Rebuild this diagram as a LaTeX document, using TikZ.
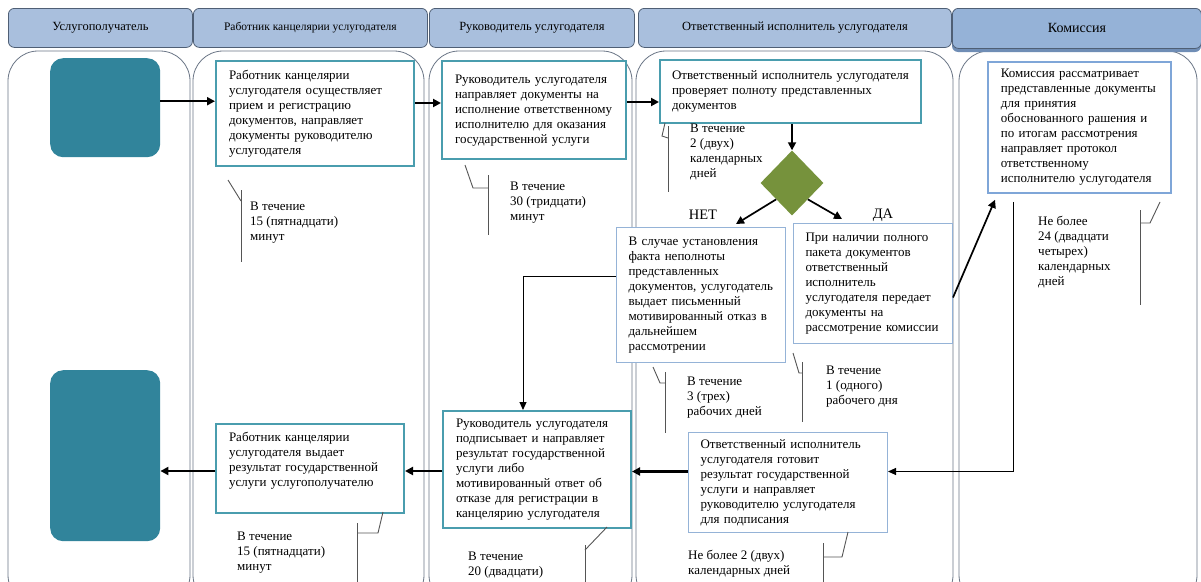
\documentclass[tikz,border=0pt]{standalone}
\usepackage{fontspec}
\setmainfont{Liberation Serif}
\usetikzlibrary{shapes.geometric,arrows.meta}
\definecolor{hdrfill}{HTML}{A9BFDD}
\definecolor{hdrfillb}{HTML}{95B2D7}
\definecolor{hdrshadow}{HTML}{6F8DB5}
\definecolor{hdrline}{HTML}{4F5F75}
\definecolor{laneline}{HTML}{6B7686}
\definecolor{tealfill}{HTML}{31849B}
\definecolor{tealline}{HTML}{4A9DAE}
\definecolor{blueline}{HTML}{7FA6D8}
\definecolor{lightline}{HTML}{95B3D7}
\definecolor{olivefill}{HTML}{76923C}
\definecolor{calloutcol}{HTML}{555555}
\newcommand{\mylines}[1]{\noindent\begin{tabular}{@{}l@{}}#1\end{tabular}}
\tikzset{
  hdr/.style={draw=hdrline, fill=hdrfill, rounded corners=6pt, line width=0.8pt,
    anchor=north west, inner sep=0pt, font=\fontsize{12.5}{14}\selectfont},
  lane/.style={draw=laneline, line width=0.8pt, rounded corners=30pt},
  term/.style={fill=tealfill, rounded corners=13pt, anchor=north west, inner sep=0pt},
  tbox/.style={draw=tealline, line width=2pt, fill=white, anchor=north west, inner xsep=13pt, inner ysep=0pt},
  bbox/.style={draw=blueline, line width=1.8pt, fill=white, anchor=north west, inner xsep=13pt, inner ysep=0pt},
  lbox/.style={draw=lightline, line width=1pt, fill=white, anchor=north west, inner xsep=12pt, inner ysep=0pt},
  note/.style={anchor=north west, inner sep=0pt},
  arr/.style={-{Triangle[length=8pt,width=8pt]}, line width=2.3pt},
  marr/.style={-{Triangle[length=8pt,width=8pt]}, line width=1.7pt},
  thinarr/.style={-{Triangle[length=8pt,width=7pt]}, line width=1pt},
  callout/.style={draw=calloutcol, line width=0.9pt},
}
\begin{document}
\begin{tikzpicture}[x=1pt,y=-1pt,font=\fontsize{13}{15}\selectfont]
\useasboundingbox (0,0) rectangle (1201,581);
\fill[white] (0,0) rectangle (1201,581);
\clip (0,0) rectangle (1201,581);

% lanes
\draw[lane] (8,51) rectangle (190,605);
\draw[lane] (193,51) rectangle (424,605);
\draw[lane] (429,51) rectangle (632,605);
\draw[lane] (636,51) rectangle (953,605);
\draw[lane] (959,51) rectangle (1197,605);

% headers
\node[hdr, minimum width=184pt, minimum height=39pt] (H1) at (8,8) {Услугополучатель};
\node[hdr, minimum width=234pt, minimum height=39pt, font=\fontsize{11.5}{13}\selectfont] (H2) at (193,8) {Работник канцелярии услугодателя};
\node[hdr, minimum width=205pt, minimum height=39pt] (H3) at (429,8) {Руководитель услугодателя};
\node[hdr, minimum width=313pt, minimum height=39pt] (H4) at (638,8) {Ответственный исполнитель услугодателя};
\fill[hdrshadow, rounded corners=6pt] (952,12) rectangle (1201,52);
\node[hdr, fill=hdrfillb, minimum width=249pt, minimum height=40pt, font=\fontsize{14}{16}\selectfont] (H5) at (952,8) {Комиссия};

% terminals
\node[term, minimum width=110pt, minimum height=99pt] (start) at (50,58) {};
\node[term, minimum width=110pt, minimum height=171pt] (end) at (50,370) {};

% boxes
\node[tbox, minimum width=198pt, minimum height=105pt, text width=172pt] (B1) at (215,60)
  {\mylines{Работник канцелярии\\ услугодателя осуществляет\\ прием и регистрацию\\ документов, направляет\\ документы руководителю\\ услугодателя}};
\node[tbox, minimum width=184pt, minimum height=98pt, text width=158pt] (B2) at (441,60)
  {\mylines{Руководитель услугодателя\\ направляет документы на\\ исполнение ответственному\\ исполнителю для оказания\\ государственной услуги}};
\node[tbox, minimum width=261pt, minimum height=63pt, text width=237pt, inner xsep=12pt] (B3) at (659,59)
  {\mylines{Ответственный исполнитель услугодателя\\ проверяет полноту представленных\\ документов}};
\node[diamond, fill=olivefill, minimum width=63pt, minimum height=65pt, inner sep=0pt] (D) at (792,183) {};
\node[lbox, minimum width=169pt, minimum height=135pt, text width=145pt] (B4) at (616,227)
  {\mylines{В случае установления\\ факта неполноты\\ представленных\\ документов, услугодатель\\ выдает письменный\\ мотивированный отказ в\\ дальнейшем\\ рассмотрении}};
\node[lbox, minimum width=159pt, minimum height=120pt, text width=135pt] (B5) at (793,223)
  {\mylines{При наличии полного\\ пакета документов\\ ответственный\\ исполнитель\\ услугодателя передает\\ документы на\\ рассмотрение комиссии}};
\node[bbox, minimum width=183pt, minimum height=131pt, text width=157pt] (B6) at (987,61)
  {\mylines{Комиссия рассматривает\\ представленные документы\\ для принятия\\ обоснованного рашения и\\ по итогам рассмотрения\\ направляет протокол\\ ответственному\\ исполнителю услугодателя}};
\node[lbox, minimum width=199pt, minimum height=100pt, text width=175pt] (B8) at (688,432)
  {\mylines{Ответственный исполнитель\\ услугодателя готовит\\ результат государственной\\ услуги и направляет\\ руководителю услугодателя\\ для подписания}};
\node[tbox, minimum width=188pt, minimum height=117pt, text width=162pt] (B7) at (442,410)
  {\mylines{Руководитель услугодателя\\ подписывает и направляет\\ результат государственной\\ услуги либо\\ мотивированный ответ об\\ отказе для регистрации в\\ канцелярию услугодателя}};
\node[tbox, minimum width=188pt, minimum height=89pt, text width=162pt] (B9) at (215,423)
  {\mylines{Работник канцелярии\\ услугодателя выдает\\ результат государственной\\ услуги услугополучателю\\ \mbox{}}};

% decision labels
\node[font=\fontsize{14.5}{16}\selectfont, inner sep=0pt] (net) at (703,215) {НЕТ};
\node[font=\fontsize{14.5}{16}\selectfont, inner sep=0pt] (da) at (883,215) {ДА};

% connectors
\draw[arr] ([yshift=6.5pt]start.east) coordinate (a1) -- (a1 -| B1.west);
\draw[arr] ([yshift=10.5pt]B1.east) coordinate (a2) -- (a2 -| B2.west);
\draw[arr] ([yshift=8pt]B2.east) coordinate (a3) -- (a3 -| B3.west);
\draw[marr] (D.north |- B3.south) -- (D.north);
\draw[marr] (D.south west) -- ([xshift=35pt,yshift=3pt]B4.north);
\draw[marr] (D.south east) -- ([xshift=-31pt,yshift=4pt]B5.north);
\draw[marr] ([yshift=-14pt]B5.east) -- ([xshift=8pt,yshift=-6pt]B6.south west);
\draw[thinarr] ([xshift=-65.5pt,yshift=-8pt]B6.south) |- ([yshift=11pt]B8.east);
\draw[arr] ([yshift=11pt]B8.west) coordinate (a5) -- (a5 -| B7.east);
\draw[thinarr] ([yshift=18.5pt]B4.west) -| ([xshift=-14pt]B7.north);
\draw[arr] ([yshift=-1.5pt]B7.west) coordinate (a6) -- (a6 -| B9.east);
\draw[arr] ([yshift=-2.5pt]B9.west) coordinate (a7) -- (a7 -| end.east);

% callouts
\draw[callout] (228,180) -- (241,201);
\draw[callout] (241,190) -- (241,262);
\draw[callout] (465,165) -- (473,188) -- (488,188);
\draw[callout] (488,175) -- (488,235);
\draw[callout] (665,123) -- (662,136) -- (668,138);
\draw[callout] (668,126) -- (668,192);
\draw[callout] (653,367) -- (660,383) -- (665,383);
\draw[callout] (665,372) -- (665,433);
\draw[callout] (793,353) -- (799,373) -- (802,373);
\draw[callout] (802,362) -- (802,422);
\draw[callout] (1160,202) -- (1150,223) -- (1140,223);
\draw[callout] (1140,210) -- (1140,305);
\draw[callout] (848,532) -- (842,557) -- (823,557);
\draw[callout] (823,543) -- (823,590);
\draw[callout] (383,512) -- (378,533) -- (357,533);
\draw[callout] (357,523) -- (357,590);
\draw[callout] (607,527) -- (585,550);
\draw[callout] (585,545) -- (585,590);

% timing notes
\node[note] (T1) at (250,200) {\mylines{В течение\\ 15 (пятнадцати)\\ минут}};
\node[note] (T2) at (510,180) {\mylines{В течение\\ 30 (тридцати)\\ минут}};
\node[note] (T3) at (690,122) {\mylines{В течение\\ 2 (двух)\\ календарных\\ дней}};
\node[note] (T4) at (687,375) {\mylines{В течение\\ 3 (трех)\\ рабочих дней}};
\node[note] (T5) at (826,364) {\mylines{В течение\\ 1 (одного)\\ рабочего дня}};
\node[note] (T6) at (1038,215) {\mylines{Не более\\ 24 (двадцати\\ четырех)\\ календарных\\ дней}};
\node[note] (T7) at (688,549) {\mylines{Не более 2 (двух)\\ календарных дней}};
\node[note] (T8) at (237,530) {\mylines{В течение\\ 15 (пятнадцати)\\ минут}};
\node[note] (T9) at (468,550) {\mylines{В течение\\ 20 (двадцати)}};
\end{tikzpicture}
\end{document}
